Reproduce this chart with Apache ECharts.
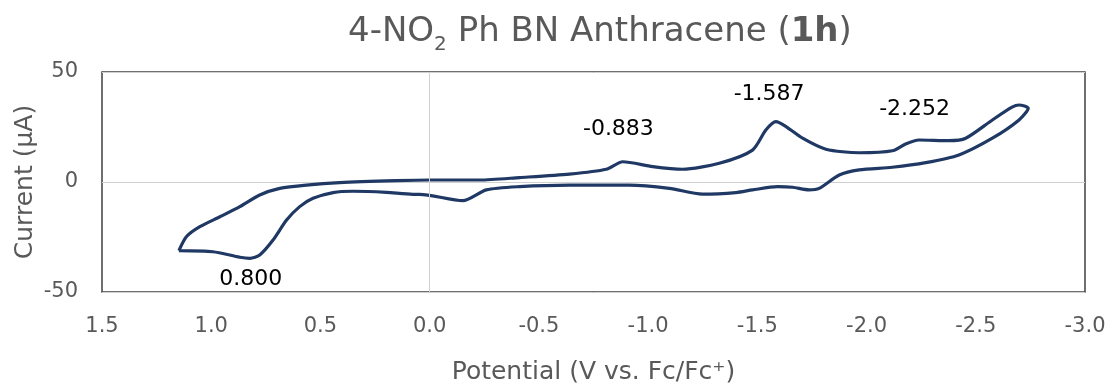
<!DOCTYPE html>
<html>
<head>
<meta charset="utf-8">
<script src="https://cdn.jsdelivr.net/npm/echarts@6/dist/echarts.min.js"></script>
<style>html,body{margin:0;padding:0;background:#fff;}#c{width:1110px;height:387px;}</style>
</head>
<body>
<div id="c"></div>
<script>
// Cyclic voltammogram: upper branch (left tip -> right tip)
var upperV = [1.148,1.113,1.052,0.960,0.869,0.778,0.686,0.564,0.412,0.153,0.0,-0.229,-0.412,-0.640,-0.808,-0.884,-1.021,-1.158,-1.326,-1.478,-1.539,-1.585,-1.631,-1.707,-1.814,-1.966,-2.118,-2.179,-2.240,-2.377,-2.454,-2.576,-2.666,-2.698,-2.740];
var upperI = [-31.2,-24.8,-20.3,-15.8,-11.2,-5.9,-2.9,-1.4,-0.3,0.6,0.9,0.9,2.0,3.6,5.8,9.2,7.0,5.8,8.5,14.5,23.6,27.4,25.2,19.9,14.9,13.3,14.2,17.3,19.1,18.8,19.9,28.2,34.0,35.0,33.5];
// lower branch (right tip -> left tip)
var lowerV = [-2.698,-2.576,-2.423,-2.271,-2.118,-1.966,-1.875,-1.783,-1.737,-1.661,-1.592,-1.478,-1.402,-1.249,-1.097,-0.914,-0.640,-0.412,-0.259,-0.152,0.046,0.077,0.198,0.351,0.442,0.534,0.595,0.655,0.717,0.778,0.823,0.869,0.992,1.148];
var lowerI = [28.2,19.9,12.3,8.8,6.7,5.5,3.2,-2.9,-3.6,-2.4,-2.1,-3.6,-4.8,-5.5,-2.9,-1.4,-1.4,-2.1,-3.6,-8.5,-5.6,-5.6,-4.7,-4.2,-4.8,-7.4,-11.2,-17.3,-26.4,-33.2,-34.7,-34.2,-31.7,-31.2];
// peak annotations: text and anchor (V, I)
var noteText = ['-0.883','-1.587','-2.252','0.800'];
var noteV = [-0.864,-1.554,-2.220,0.819];
var noteI = [24.0,40.0,33.0,-44.1];
var xTicks = {min:-3, max:1.5, interval:0.5};
var yTicks = {min:-50, max:50, interval:50};

var cv = [];
for (var i = 0; i < upperV.length; i++) cv.push([upperV[i], upperI[i]]);
for (var j = 0; j < lowerV.length; j++) cv.push([lowerV[j], lowerI[j]]);
var notes = noteText.map(function(t, k){ return {value:[noteV[k], noteI[k]], name:t}; });

var font = 'DejaVu Sans';
var grey = '#595959';
var chart = echarts.init(document.getElementById('c'), null, {renderer:'canvas'});
chart.setOption({
  animation: false,
  title: {
    left: 343, top: 4,
    text: '{a|4-NO}{s|2}{a| Ph BN Anthracene (}{b|1h}{a|)}',
    textStyle: {
      fontWeight: 'normal',
      rich: {
        a: {fontFamily: font, fontSize: 34, color: grey, fontWeight: 'normal', lineHeight: 46},
        b: {fontFamily: font, fontSize: 34, color: grey, fontWeight: 'bold', lineHeight: 46},
        s: {fontFamily: font, fontSize: 20, color: grey, fontWeight: 'normal', lineHeight: 46, verticalAlign: 'bottom', padding:[17,0,0,0]}
      }
    }
  },
  grid: {left: 102, right: 25, top: 72, bottom: 95, show: true, borderColor: '#404040', borderWidth: 1.5,
    containLabel: false, outerBoundsMode: 'none'},
  xAxis: {
    type: 'value', inverse: true, min: xTicks.min, max: xTicks.max, interval: xTicks.interval,
    axisLine: {show: false}, axisTick: {show: false}, splitLine: {show: false},
    axisLabel: {fontFamily: font, fontSize: 21, color: grey, margin: 24,
      formatter: function(v){ return v.toFixed(1); }},
    name: 'Potential (V vs. Fc/Fc\u207A)', nameLocation: 'middle', nameGap: 68, nameMoveOverlap: false,
    nameTextStyle: {fontFamily: font, fontSize: 25, color: grey}
  },
  yAxis: {
    type: 'value', min: yTicks.min, max: yTicks.max, interval: yTicks.interval,
    axisLine: {show: false}, axisTick: {show: false},
    splitLine: {show: true, lineStyle: {color: '#d0d0d0', width: 1}},
    axisLabel: {fontFamily: font, fontSize: 21, color: grey, margin: 24},
    name: 'Current (\u00B5A)', nameLocation: 'middle', nameGap: 64, nameRotate: 90, nameMoveOverlap: false,
    nameTextStyle: {fontFamily: font, fontSize: 25, color: grey}
  },
  series: [
    {
      type: 'line', data: cv, showSymbol: false, smooth: 0.25,
      lineStyle: {color: '#1f3864', width: 3.2},
      markLine: {silent: true, symbol: 'none', label: {show: false},
        lineStyle: {color: '#d0d0d0', width: 1, type: 'solid'}, data: [{xAxis: 0}]},
      z: 3
    },
    {
      type: 'scatter', data: notes, symbolSize: 0, itemStyle: {opacity: 0},
      label: {show: true, position: 'inside', formatter: function(p){ return p.name; },
        fontFamily: font, fontSize: 22, color: '#000000', textBorderWidth: 0, opacity: 1},
      z: 5
    }
  ]
});
</script>
</body>
</html>
